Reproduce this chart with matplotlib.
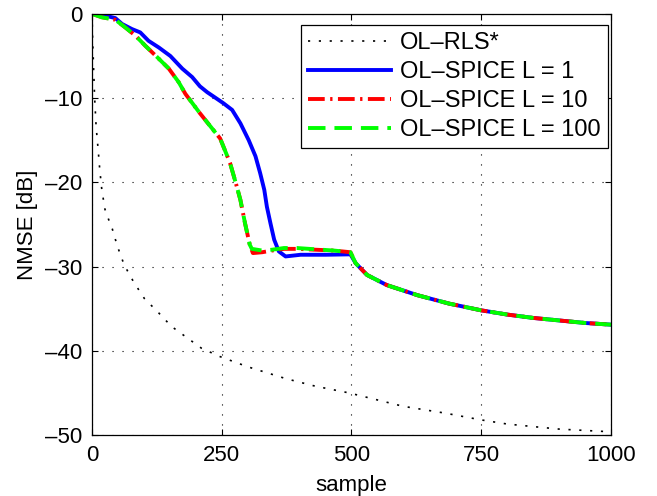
import numpy as np
from matplotlib import pyplot as plt

# OL-RLS* (black dotted)
rls_x = [0, 1, 3, 5, 8, 12, 15, 19, 25, 32, 39, 49, 62, 80, 101, 127, 153, 182, 211, 247,
         300, 373, 430, 495, 600, 680, 749, 800, 900, 993, 1000]
rls_y = [0, -2.5, -6.3, -9.8, -13.4, -16.2, -18.5, -20.9, -23.2, -24.4, -25.5, -27.6, -29.8,
         -31.8, -33.8, -35.4, -37.1, -38.4, -39.7, -40.7, -41.9, -43.3, -44.2, -45.0, -46.6,
         -47.4, -48.2, -48.7, -49.3, -49.6, -49.7]

# common tail after sample 500
tail_x = [508, 530, 568, 627, 688, 750, 800, 850, 900, 950, 1000]
tail_y = [-29.6, -31.0, -32.2, -33.4, -34.4, -35.2, -35.7, -36.1, -36.4, -36.7, -36.9]

# OL-SPICE L = 1
l1_x = [0, 25, 45, 58, 77, 93, 109, 129, 151, 174, 193, 208, 222, 234, 253, 270, 286, 302,
        315, 324, 332, 337, 344, 351, 360, 373, 402, 450, 498] + tail_x
l1_y = [0, -0.2, -0.5, -1.2, -1.8, -2.2, -3.2, -4.0, -5.0, -6.5, -7.5, -8.6, -9.3, -9.8,
        -10.6, -11.4, -13.0, -15.0, -16.9, -18.9, -20.9, -22.9, -24.9, -26.8, -28.2, -28.8,
        -28.6, -28.6, -28.55] + tail_y

# OL-SPICE L = 10
l10_x = [0, 19, 45, 64, 84, 103, 125, 148, 167, 180, 208, 247, 266, 279, 286, 295, 304, 310,
         328, 347, 370, 395, 430, 466, 498] + tail_x
l10_y = [0, -0.4, -0.7, -1.6, -2.6, -3.8, -5.1, -6.5, -8.1, -9.5, -11.8, -14.8, -17.7, -20.5,
         -22.1, -24.9, -27.4, -28.4, -28.3, -28.1, -27.9, -27.9, -28.0, -28.1, -28.3] + tail_y

# OL-SPICE L = 100
l100_x = [0, 19, 45, 64, 84, 103, 125, 148, 167, 180, 208, 247, 266, 279, 286, 295, 304, 308,
          328, 347, 370, 395, 430, 466, 498] + tail_x
l100_y = [0, -0.4, -0.7, -1.6, -2.6, -3.8, -5.1, -6.5, -8.1, -9.5, -11.8, -14.8, -17.7, -20.5,
          -22.1, -24.9, -27.4, -27.9, -28.1, -28.0, -27.8, -27.8, -27.95, -28.1, -28.3] + tail_y

x_ticks = [0, 250, 500, 750, 1000]
y_ticks = [0, -10, -20, -30, -40, -50]

plt.rcParams['font.family'] = ['Liberation Sans', 'DejaVu Sans']
plt.rcParams['axes.unicode_minus'] = False

fig = plt.figure(figsize=(6.57, 4.96), dpi=100)
ax = fig.add_axes([0.140, 0.123, 0.790, 0.849])

ax.plot(rls_x, rls_y, color='black', linewidth=1.2, linestyle=(0, (1.3, 5.2)), label='OL\u2013RLS*')
ax.plot(l1_x, l1_y, color='blue', linewidth=2.8, label='OL\u2013SPICE L = 1')
ax.plot(l10_x, l10_y, color='red', linewidth=2.8, linestyle=(0, (4.3, 1.4, 0.6, 1.4)),
        label='OL\u2013SPICE L = 10')
ax.plot(l100_x, l100_y, color='#00ff00', linewidth=2.8, linestyle=(0, (4.5, 2.3)),
        label='OL\u2013SPICE L = 100')

ax.set_xlim(0, 1000)
ax.set_ylim(-50, 0)
ax.set_xticks(x_ticks)
ax.set_yticks(y_ticks)
ax.set_xticklabels([str(t) for t in x_ticks])
ax.set_yticklabels([str(t).replace('-', '\u2013') for t in y_ticks])
ax.tick_params(direction='in', length=4, width=0.8, top=True, right=True, labelsize=16, pad=7)
for s in ax.spines.values():
    s.set_linewidth(0.9)
ax.grid(True, color='black', linestyle=(0, (1, 8)), linewidth=0.8)

ax.set_xlabel('sample', fontsize=16, labelpad=7)
ax.set_ylabel('NMSE [dB]', fontsize=16, labelpad=5)

leg = ax.legend(loc='upper right', bbox_to_anchor=(0.994, 0.974), fontsize=17, frameon=True,
                fancybox=False, handlelength=3.5, handletextpad=0.4, labelspacing=0.3,
                borderpad=0.3, borderaxespad=0)
leg.get_frame().set_edgecolor('black')
leg.get_frame().set_linewidth(0.9)
leg.get_frame().set_alpha(1)

fig.savefig('out.png', dpi=100)
